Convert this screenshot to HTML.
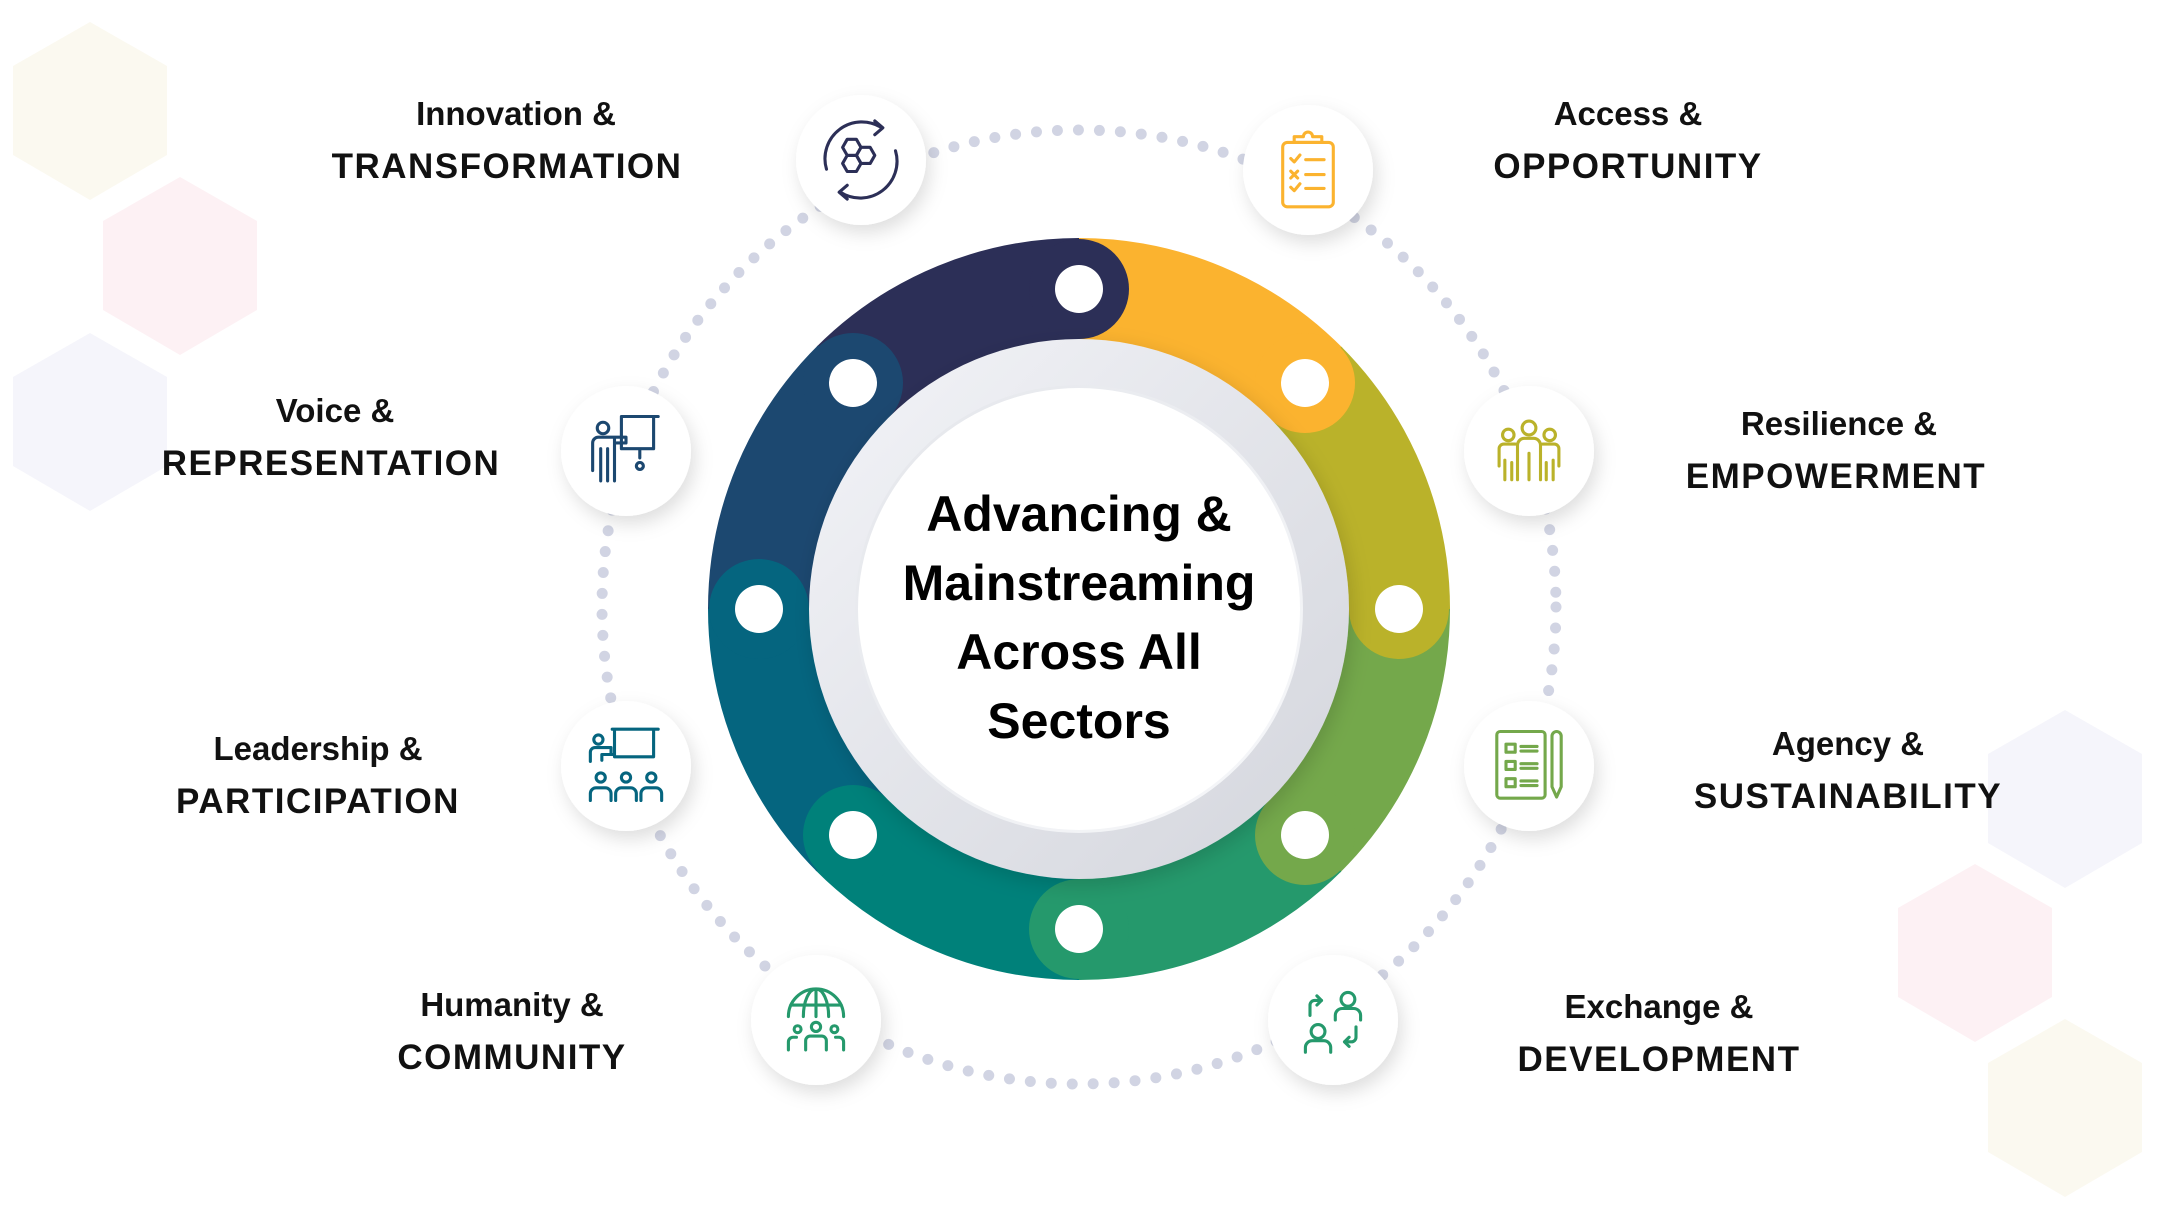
<!DOCTYPE html>
<html><head><meta charset="utf-8"><style>
html,body{margin:0;padding:0;background:#fff;}
svg{display:block;}
text{font-family:"Liberation Sans",sans-serif;font-weight:bold;fill:#111;}
.l1{font-size:33px;}
.l2{font-size:35px;letter-spacing:1.5px;}
.c{font-size:50px;fill:#000;}
</style></head><body>
<svg width="2160" height="1215" viewBox="0 0 2160 1215" xmlns="http://www.w3.org/2000/svg">
<defs>
<filter id="sh" x="-40%" y="-40%" width="180%" height="180%"><feDropShadow dx="4" dy="8" stdDeviation="9" flood-color="#000" flood-opacity="0.13"/></filter>
<filter id="sh2" x="-20%" y="-20%" width="140%" height="140%"><feDropShadow dx="3" dy="6" stdDeviation="10" flood-color="#000" flood-opacity="0.15"/></filter>
<linearGradient id="gr" x1="0" y1="0" x2="1" y2="1"><stop offset="0" stop-color="#f3f4f8"/><stop offset="1" stop-color="#d3d5dc"/></linearGradient>
<linearGradient id="gr2" x1="0" y1="0" x2="1" y2="1"><stop offset="0" stop-color="#e4e6eb"/><stop offset="1" stop-color="#f7f8fa"/></linearGradient>
</defs>
<g>
<polygon points="90,22 167,66 167,155 90,200 13,155 13,66" fill="#fbf9f0"/>
<polygon points="180,177 257,221 257,310 180,355 103,310 103,221" fill="#fdf1f4"/>
<polygon points="90,333 167,377 167,466 90,511 13,466 13,377" fill="#f5f5fb"/>
<polygon points="2065,710 2142,754 2142,843 2065,888 1988,843 1988,754" fill="#f5f5fb"/>
<polygon points="1975,864 2052,908 2052,997 1975,1042 1898,997 1898,908" fill="#fdf1f4"/>
<polygon points="2065,1019 2142,1063 2142,1152 2065,1197 1988,1152 1988,1063" fill="#fbf9f0"/>
</g>
<g transform="translate(-5,0)">
<circle cx="1084" cy="607" r="477" fill="none" stroke="#d1d4e3" stroke-width="11" stroke-linecap="round" stroke-dasharray="0 21"/>
<g fill="none" stroke-width="102">
<circle cx="1084" cy="609" r="320" stroke="#2c2f57" stroke-dasharray="253 2010" transform="rotate(-135 1084 609)"/>
<circle cx="1084" cy="609" r="320" stroke="#fbb32f" stroke-dasharray="253 2010" transform="rotate(-90 1084 609)"/>
<circle cx="1084" cy="609" r="320" stroke="#bab22a" stroke-dasharray="253 2010" transform="rotate(-45 1084 609)"/>
<circle cx="1084" cy="609" r="320" stroke="#74a84b" stroke-dasharray="253 2010" transform="rotate(0 1084 609)"/>
<circle cx="1084" cy="609" r="320" stroke="#25996c" stroke-dasharray="253 2010" transform="rotate(45 1084 609)"/>
<circle cx="1084" cy="609" r="320" stroke="#00817a" stroke-dasharray="253 2010" transform="rotate(90 1084 609)"/>
<circle cx="1084" cy="609" r="320" stroke="#05657f" stroke-dasharray="253 2010" transform="rotate(135 1084 609)"/>
<circle cx="1084" cy="609" r="320" stroke="#1c4870" stroke-dasharray="253 2010" transform="rotate(180 1084 609)"/>
</g>
<g>
<circle cx="1084" cy="289" r="50" fill="#2c2f57"/><circle cx="1084" cy="289" r="24" fill="#fff"/>
<circle cx="1310" cy="383" r="50" fill="#fbb32f"/><circle cx="1310" cy="383" r="24" fill="#fff"/>
<circle cx="1404" cy="609" r="50" fill="#bab22a"/><circle cx="1404" cy="609" r="24" fill="#fff"/>
<circle cx="1310" cy="835" r="50" fill="#74a84b"/><circle cx="1310" cy="835" r="24" fill="#fff"/>
<circle cx="1084" cy="929" r="50" fill="#25996c"/><circle cx="1084" cy="929" r="24" fill="#fff"/>
<circle cx="858" cy="835" r="50" fill="#00817a"/><circle cx="858" cy="835" r="24" fill="#fff"/>
<circle cx="764" cy="609" r="50" fill="#05657f"/><circle cx="764" cy="609" r="24" fill="#fff"/>
<circle cx="858" cy="383" r="50" fill="#1c4870"/><circle cx="858" cy="383" r="24" fill="#fff"/>
</g>
<circle cx="1084" cy="609" r="270" fill="url(#gr)" filter="url(#sh2)"/>
<circle cx="1084" cy="609" r="224" fill="url(#gr2)"/>
<circle cx="1084" cy="609" r="221" fill="#fff"/>
<text class="c" x="1084" y="531" text-anchor="middle">Advancing &amp;</text>
<text class="c" x="1084" y="600" text-anchor="middle">Mainstreaming</text>
<text class="c" x="1084" y="669" text-anchor="middle">Across All</text>
<text class="c" x="1084" y="738" text-anchor="middle">Sectors</text>
<g fill="#fff" filter="url(#sh)">
<circle cx="866" cy="160" r="65"/>
<circle cx="1313" cy="170" r="65"/>
<circle cx="631" cy="451" r="65"/>
<circle cx="1534" cy="451" r="65"/>
<circle cx="631" cy="766" r="65"/>
<circle cx="1534" cy="766" r="65"/>
<circle cx="821" cy="1020" r="65"/>
<circle cx="1338" cy="1020" r="65"/>
</g>
<g fill="none" stroke-width="2.7" stroke-linecap="round" stroke-linejoin="round">
<g stroke="#2c2f57" transform="translate(866,160) scale(1.15)">
<path d="M-30,8 A32,32 0 0 1 18,-28 M12,-34 L19,-28 L12,-22"/>
<path d="M30,-8 A32,32 0 0 1 -18,28 M-12,34 L-19,28 L-12,22"/>
<polygon points="-12,-18 -4,-18 0,-11 -4,-4 -12,-4 -16,-11"/>
<polygon points="0,-11 8,-11 12,-4 8,3 0,3 -4,-4"/>
<polygon points="-12,-4 -4,-4 0,3 -4,10 -12,10 -16,3"/>
</g>
<g stroke="#fbb32f" transform="translate(1313,170) scale(1.15)">
<rect x="-22" y="-24" width="44" height="56" rx="4"/>
<path d="M-12,-24 v-5 h8 a4,4 0 0 1 8,0 h8 v5 z"/>
<path d="M-15,-10 l3,3 5,-6 M-2,-9 h16 M-15,1 l6,6 M-9,1 l-6,6 M-2,4 h16 M-15,15 l3,3 5,-6 M-2,16 h16"/>
</g>
<g stroke="#1c4870" transform="translate(631,451) scale(1.15)">
<circle cx="-20" cy="-20" r="5"/>
<path d="M-4,-30 h32 M-4,-30 v28 h28 v-28 M12,-2 v8 M12,10 a3,3 0 1 0 0.1,0"/>
<path d="M-8,-12 h-16 a5,5 0 0 0 -5,5 v24 M-22,-2 v28 M-16,-2 v28 M-10,-12 v38 M-8,-12 h8 v5 h-8"/>
</g>
<g stroke="#bab22a" transform="translate(1534,451) scale(1.15)">
<circle cx="0" cy="-20" r="6"/><circle cx="-18" cy="-14" r="5"/><circle cx="18" cy="-14" r="5"/>
<path d="M-10,25 v-30 a6,6 0 0 1 6,-6 h8 a6,6 0 0 1 6,6 v30 M0,2 v23"/>
<path d="M-12,-6 h-10 a4,4 0 0 0 -4,4 v15 M-21,8 v17 M-15,10 v15"/>
<path d="M12,-6 h10 a4,4 0 0 1 4,4 v15 M21,8 v17 M15,10 v15"/>
</g>
<g stroke="#05657f" transform="translate(631,766) scale(1.15)">
<circle cx="-24" cy="-23" r="4"/>
<path d="M-12,-32 h40 M-10,-32 v24 h34 v-24 M-31,-4 v-8 a4,4 0 0 1 4,-4 h14 v6 h-8 v5 M-19,-10 h8"/>
<circle cx="-22" cy="10" r="4"/><circle cx="0" cy="10" r="4"/><circle cx="22" cy="10" r="4"/>
<path d="M-31,30 v-6 a5,5 0 0 1 5,-5 h8 a5,5 0 0 1 5,5 v6 M-9,30 v-6 a5,5 0 0 1 5,-5 h8 a5,5 0 0 1 5,5 v6 M13,30 v-6 a5,5 0 0 1 5,-5 h8 a5,5 0 0 1 5,5 v6"/>
</g>
<g stroke="#74a84b" transform="translate(1534,766) scale(1.15)">
<rect x="-28" y="-30" width="42" height="58" rx="3"/>
<rect x="-20" y="-19" width="8" height="7"/><rect x="-20" y="-4" width="8" height="7"/><rect x="-20" y="11" width="8" height="7"/>
<path d="M-7,-17 h14 M-7,-13 h14 M-7,-2 h14 M-7,2 h14 M-7,13 h14 M-7,17 h14"/>
<path d="M20,-26 a4,4 0 0 1 8,0 v44 l-4,9 l-4,-9 z"/>
</g>
<g stroke="#25996c" transform="translate(821,1020) scale(1.15)">
<path d="M-24,-3 a24,24 0 0 1 48,0 M-22,-13 h44 M0,-27 v24 M-11,-3 a11,24 0 0 1 11,-24 a11,24 0 0 1 11,24"/>
<circle cx="0" cy="6" r="4"/><circle cx="-16" cy="8" r="3"/><circle cx="16" cy="8" r="3"/>
<path d="M-9,26 v-8 a4,4 0 0 1 4,-4 h10 a4,4 0 0 1 4,4 v8 M-24,26 v-7 a4,4 0 0 1 4,-4 h3 M24,26 v-7 a4,4 0 0 0 -4,-4 h-3"/>
</g>
<g stroke="#25996c" transform="translate(1338,1020) scale(1.15)">
<circle cx="13" cy="-18" r="6"/><circle cx="-13" cy="10" r="6"/>
<path d="M2,0 v-4 a6,6 0 0 1 6,-6 h10 a6,6 0 0 1 6,6 v4 M-24,28 v-4 a6,6 0 0 1 6,-6 h10 a6,6 0 0 1 6,6 v4"/>
<path d="M-20,-4 v-9 a4,4 0 0 1 4,-4 h6 M-14,-21 l4,4 -4,4 M20,6 v9 a4,4 0 0 1 -4,4 h-6 M14,23 l-4,-4 4,-4"/>
</g>
</g>
</g>
<g text-anchor="middle">
<text class="l1" x="516" y="125">Innovation &amp;</text>
<text class="l2" x="507" y="178">TRANSFORMATION</text>
<text class="l1" x="1628" y="125">Access &amp;</text>
<text class="l2" x="1628" y="178">OPPORTUNITY</text>
<text class="l1" x="335" y="422">Voice &amp;</text>
<text class="l2" x="331" y="475">REPRESENTATION</text>
<text class="l1" x="1839" y="435">Resilience &amp;</text>
<text class="l2" x="1836" y="488">EMPOWERMENT</text>
<text class="l1" x="318" y="760">Leadership &amp;</text>
<text class="l2" x="318" y="813">PARTICIPATION</text>
<text class="l1" x="1848" y="755">Agency &amp;</text>
<text class="l2" x="1848" y="808">SUSTAINABILITY</text>
<text class="l1" x="512" y="1016">Humanity &amp;</text>
<text class="l2" x="512" y="1069">COMMUNITY</text>
<text class="l1" x="1659" y="1018">Exchange &amp;</text>
<text class="l2" x="1659" y="1071">DEVELOPMENT</text>
</g>
</svg>
</body></html>
